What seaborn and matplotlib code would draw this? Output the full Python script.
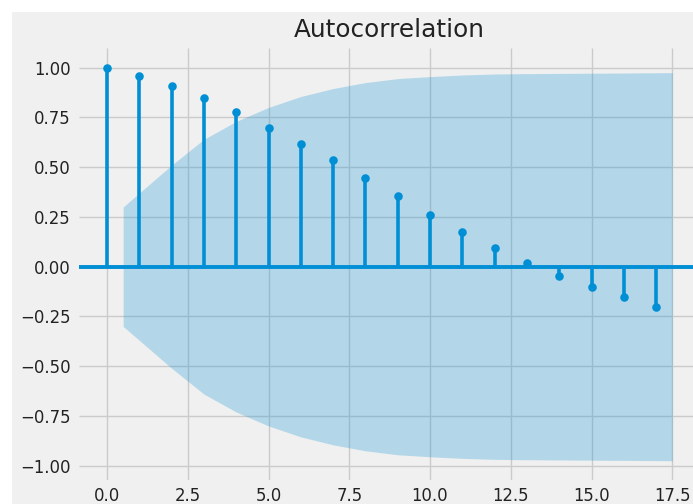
"""
Autocorrelation stem chart with confidence band (fivethirtyeight look).
"""

import matplotlib
matplotlib.use("Agg")
import matplotlib.pyplot as plt
from matplotlib.patches import Rectangle
import numpy as np
import pandas as pd
import seaborn as sns

# lags and autocorrelation values
lags = list(range(18))
acf_values = [1.00, 0.96, 0.91, 0.848, 0.776, 0.698, 0.618, 0.534, 0.446,
              0.356, 0.262, 0.175, 0.095, 0.017, -0.047, -0.10, -0.153, -0.202]

# confidence band half-width for lags 1..17 (band drawn from 0.5 to 17.5)
band_lags = [0.5, 2, 3, 4, 5, 6, 7, 8, 9, 10, 11, 12, 13, 14, 15, 16, 17.5]
band_upper = [0.30, 0.51, 0.64, 0.73, 0.80, 0.855, 0.895, 0.925, 0.945,
              0.955, 0.963, 0.968, 0.970, 0.971, 0.972, 0.973, 0.975]

_BLUE = "#008fd5"
_BG = "#f0f0f0"

plt.style.use("fivethirtyeight")
plt.rcParams["font.family"] = ["DejaVu Sans"]

df = pd.DataFrame({"lag": lags, "acf": acf_values})

fig = plt.figure(figsize=(6.93, 5.04), dpi=100)
fig.patch.set_facecolor("white")
fig.patches.append(Rectangle((12 / 693, 0), 1, 1 - 12 / 504, transform=fig.transFigure,
                             facecolor=_BG, edgecolor="none", zorder=-10))

ax = fig.add_axes([0.1136, 0.0468, 0.8973, 0.858])
ax.set_facecolor(_BG)

ax.vlines(df["lag"], 0, df["acf"], color=_BLUE, linewidth=2.6)
ax.axhline(0, color=_BLUE, linewidth=2.8)
sns.scatterplot(data=df, x="lag", y="acf", ax=ax, color=_BLUE, s=38,
                edgecolor=_BLUE, linewidth=0, zorder=3)
upper = np.array(band_upper)
ax.fill_between(band_lags, -upper, upper, color=_BLUE, alpha=0.25, linewidth=0)
ax.margins(0.05)

ax.set_xticks([0.0, 2.5, 5.0, 7.5, 10.0, 12.5, 15.0, 17.5])
ax.set_xticklabels(["0.0", "2.5", "5.0", "7.5", "10.0", "12.5", "15.0", "17.5"])
ax.set_yticks([-1.0, -0.75, -0.5, -0.25, 0.0, 0.25, 0.5, 0.75, 1.0])
ax.set_yticklabels(["\u22121.00", "\u22120.75", "\u22120.50", "\u22120.25", "0.00",
                    "0.25", "0.50", "0.75", "1.00"])
ax.tick_params(axis="both", labelsize=11.9, length=0, colors="#222222")
ax.tick_params(axis="x", pad=5)
ax.tick_params(axis="y", pad=6)
ax.grid(True, color="#cbcbcb", linewidth=1.0)
ax.set_axisbelow(True)
ax.set_xlabel("")
ax.set_ylabel("")
ax.set_title("Autocorrelation", fontsize=17.8, color="#222222", pad=8)
for spine in ax.spines.values():
    spine.set_visible(False)

fig.savefig("out.png", dpi=100, facecolor="white")
plt.close(fig)
